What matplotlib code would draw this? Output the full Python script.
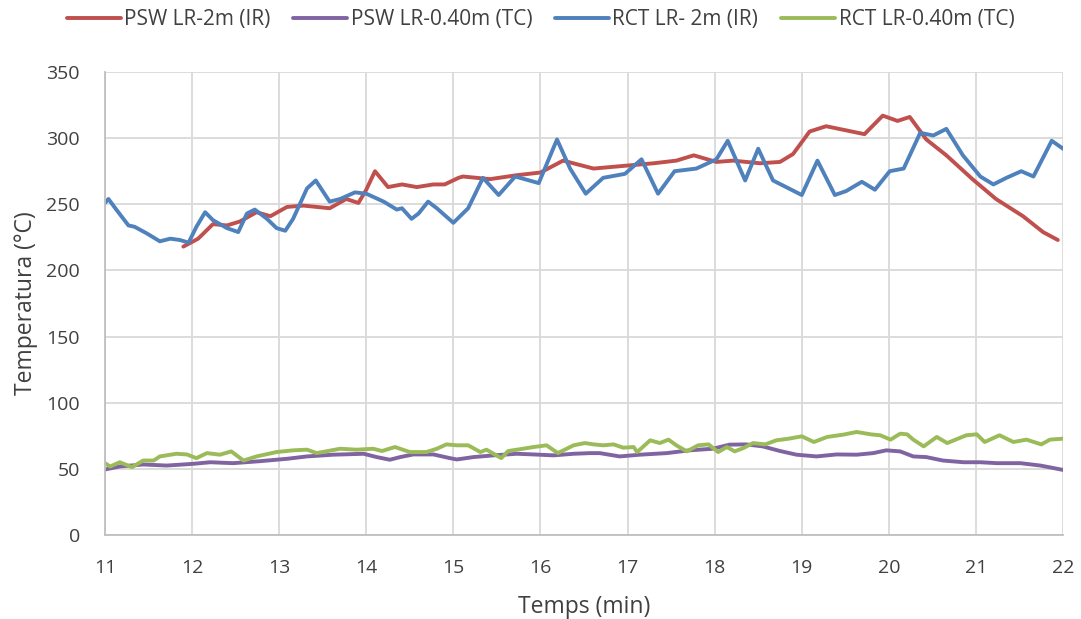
import matplotlib
matplotlib.use("agg")
import matplotlib.pyplot as plt

# Temps (min) / Temperatura (°C)
psw_ir_t = [11.90, 12.07, 12.24, 12.40, 12.55, 12.74, 12.90, 13.09, 13.28, 13.58,
            13.77, 13.91, 14.00, 14.10, 14.25, 14.41, 14.58, 14.77, 14.90, 15.06,
            15.11, 15.42, 15.73, 16.00, 16.26, 16.61, 16.95, 17.30, 17.56, 17.76,
            18.02, 18.21, 18.52, 18.75, 18.90, 19.09, 19.28, 19.72, 19.93, 20.10,
            20.24, 20.43, 20.66, 20.96, 21.23, 21.54, 21.77, 21.94]
psw_ir_v = [218, 224, 235, 234, 237, 244, 241, 248, 249, 247,
            254, 251, 261, 275, 263, 265, 263, 265, 265, 270,
            271, 269, 272, 274, 283, 277, 279, 281, 283, 287,
            282, 283, 281, 282, 288, 305, 309, 303, 317, 313,
            316, 299, 287, 269, 254, 241, 229, 223]

rct_ir_t = [11.00, 11.04, 11.13, 11.27, 11.34, 11.48, 11.63, 11.75, 11.86, 11.96,
            12.05, 12.15, 12.24, 12.40, 12.53, 12.63, 12.72, 12.86, 12.97, 13.07,
            13.16, 13.32, 13.42, 13.49, 13.58, 13.70, 13.87, 14.00, 14.20, 14.35,
            14.41, 14.52, 14.60, 14.71, 14.81, 15.00, 15.17, 15.34, 15.52, 15.71,
            15.98, 16.19, 16.34, 16.52, 16.72, 16.97, 17.16, 17.35, 17.54, 17.79,
            18.02, 18.15, 18.35, 18.50, 18.67, 18.82, 19.00, 19.18, 19.38, 19.51,
            19.69, 19.84, 20.01, 20.17, 20.36, 20.51, 20.66, 20.85, 21.05, 21.20,
            21.35, 21.52, 21.66, 21.87, 22.00]
rct_ir_v = [251, 254, 246, 234, 233, 228, 222, 224, 223, 221,
            233, 244, 238, 232, 229, 243, 246, 239, 232, 230,
            239, 262, 268, 261, 252, 254, 259, 258, 252, 246,
            247, 239, 243, 252, 247, 236, 247, 270, 257, 271,
            266, 299, 277, 258, 270, 273, 284, 258, 275, 277,
            284, 298, 268, 292, 268, 263, 257, 283, 257, 260,
            267, 261, 275, 277, 304, 302, 307, 287, 271, 265,
            270, 275, 271, 298, 292]

psw_tc_t = [11.00, 11.17, 11.44, 11.71, 12.01, 12.21, 12.47, 12.78, 13.09, 13.32,
            13.62, 13.97, 14.12, 14.27, 14.39, 14.54, 14.77, 14.96, 15.04, 15.23,
            15.46, 15.73, 15.92, 16.15, 16.38, 16.57, 16.68, 16.91, 17.14, 17.45,
            17.71, 17.98, 18.17, 18.36, 18.55, 18.75, 18.94, 19.17, 19.40, 19.63,
            19.82, 19.97, 20.13, 20.28, 20.43, 20.62, 20.86, 21.05, 21.24, 21.51,
            21.74, 22.00]
psw_tc_v = [49.5, 51.8, 53.3, 52.5, 53.8, 55.0, 54.3, 55.8, 57.6, 59.4,
            60.7, 61.4, 58.9, 56.9, 58.9, 60.9, 60.9, 58.1, 57.1, 58.9,
            60.2, 61.4, 60.9, 60.2, 61.4, 61.9, 61.9, 59.4, 60.7, 61.9,
            64.0, 65.2, 68.3, 68.5, 67.0, 63.5, 60.7, 59.4, 60.9, 60.7,
            61.9, 64.0, 63.2, 59.4, 58.9, 56.3, 55.0, 55.0, 54.3, 54.3,
            52.5, 49.2]

rct_tc_t = [11.00, 11.06, 11.17, 11.31, 11.44, 11.56, 11.63, 11.82, 11.94, 12.05,
            12.17, 12.32, 12.45, 12.59, 12.74, 12.97, 13.16, 13.32, 13.43, 13.70,
            13.89, 14.08, 14.18, 14.33, 14.50, 14.69, 14.81, 14.92, 15.04, 15.17,
            15.31, 15.38, 15.55, 15.63, 15.80, 15.92, 16.07, 16.20, 16.38, 16.51,
            16.61, 16.72, 16.84, 16.95, 17.07, 17.11, 17.26, 17.37, 17.47, 17.56,
            17.68, 17.81, 17.93, 18.04, 18.14, 18.23, 18.33, 18.44, 18.58, 18.71,
            18.85, 19.00, 19.14, 19.29, 19.48, 19.63, 19.79, 19.90, 20.02, 20.13,
            20.21, 20.28, 20.40, 20.55, 20.67, 20.89, 21.01, 21.10, 21.27, 21.43,
            21.58, 21.75, 21.85, 22.00]
rct_tc_v = [54.3, 51.8, 55.0, 51.3, 56.3, 56.3, 59.4, 61.4, 60.9, 58.1,
            61.9, 60.7, 63.2, 56.3, 59.4, 62.7, 64.0, 64.5, 61.9, 65.2,
            64.5, 65.2, 63.5, 66.5, 62.7, 62.7, 65.2, 68.5, 67.8, 67.8,
            62.7, 64.5, 58.1, 63.5, 65.2, 66.5, 67.8, 61.9, 67.8, 69.5,
            68.5, 67.8, 68.5, 66.0, 66.5, 62.7, 71.6, 69.5, 72.1, 67.8,
            63.2, 67.8, 68.5, 62.7, 66.5, 63.2, 65.7, 69.5, 68.5, 71.6,
            72.8, 74.6, 70.3, 74.1, 75.9, 77.9, 76.1, 75.4, 72.1, 76.6,
            76.1, 72.1, 67.0, 74.1, 69.5, 75.4, 76.1, 70.3, 75.4, 70.3,
            72.1, 68.5, 72.1, 72.8]

labels = ["PSW LR-2m (IR)", "PSW LR-0.40m (TC)", "RCT LR- 2m (IR)", "RCT LR-0.40m (TC)"]
colors = ["#C0504D", "#8064A2", "#4F81BD", "#9BBB59"]

plt.rcParams["font.family"] = ["Open Sans", "DejaVu Sans"]

fig = plt.figure(figsize=(10.81, 6.19), dpi=100)
ax = fig.add_axes([0.0971, 0.1357, 0.8863, 0.748])

series = [(psw_ir_t, psw_ir_v), (psw_tc_t, psw_tc_v), (rct_ir_t, rct_ir_v), (rct_tc_t, rct_tc_v)]
for (t, v), lab, col in zip(series, labels, colors):
    ax.plot(t, v, color=col, linewidth=2.8, label=lab,
            solid_joinstyle="round", solid_capstyle="round")

ax.set_xlim(11, 22)
ax.set_ylim(0, 350)
ax.set_xticks(range(11, 23))
ax.set_yticks(range(0, 351, 50))
ax.grid(color="#D9D9D9", linewidth=1.3)
ax.set_axisbelow(True)
for side in ("top", "right"):
    ax.spines[side].set_visible(False)
for side in ("left", "bottom"):
    ax.spines[side].set_color("#BFBFBF")
    ax.spines[side].set_linewidth(1.3)
ax.tick_params(axis="x", length=0, labelsize=14, colors="#404040", pad=17)
ax.tick_params(axis="y", length=0, labelsize=14, colors="#404040", pad=18)

ax.set_xlabel("Temps (min)", fontsize=16.5, color="#404040", labelpad=13)
ax.set_ylabel("Temperatura (°C)", fontsize=16.5, color="#404040", labelpad=6)

fig.legend(loc="center", bbox_to_anchor=(0.5, 0.968), ncol=4, frameon=False,
           fontsize=15, handlelength=2.6, columnspacing=1.1, handletextpad=0.15,
           labelcolor="#404040")

plt.savefig("out.png", dpi=100)
plt.close()
